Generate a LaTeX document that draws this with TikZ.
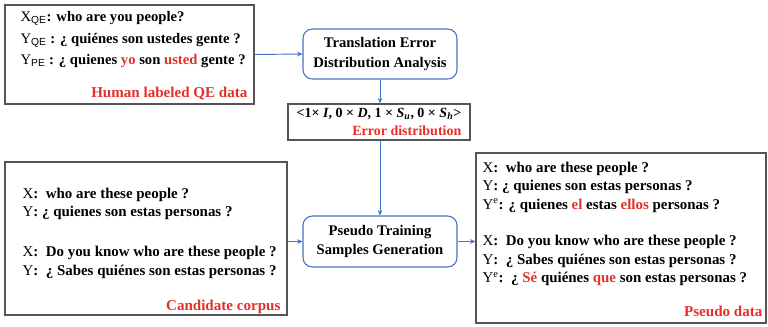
\documentclass[tikz,border=0pt]{standalone}
\usepackage{fontspec}
\setmainfont{Liberation Serif}
\newfontfamily\subsf{Liberation Sans}
\usetikzlibrary{arrows.meta,positioning}

\definecolor{boxgray}{RGB}{85,85,85}
\definecolor{flowblue}{RGB}{68,114,196}
\definecolor{errred}{RGB}{228,48,42}

\newcommand{\hl}[1]{\textcolor{errred}{#1}}

\begin{document}
\begin{tikzpicture}[
        x=0.75pt, y=-0.75pt,
        every node/.style={font=\fontsize{11.2}{13.8}\selectfont},
        databox/.style={draw=boxgray, line width=1pt, inner sep=0pt},
        procbox/.style={draw=flowblue, line width=0.8pt, rounded corners=7pt, align=center,
            minimum width=115.5pt, minimum height=37.5pt, font=\fontsize{11}{14.5}\selectfont\bfseries},
        lines/.style={anchor=north west, align=left, inner sep=0pt},
        tag/.style={anchor=base east, inner sep=0pt, text=errred, font=\fontsize{11.3}{13.8}\selectfont\bfseries},
        flow/.style={draw=flowblue, line width=0.7pt, -{Stealth[length=4pt,width=3.5pt]}}
    ]
        \useasboundingbox (0,0) rectangle (768,326);

        % Labelled QE data
        \node[databox, minimum width=186.75pt, minimum height=74.25pt] (qe) at (129.5,54.5) {};
        \node[lines, font=\fontsize{11}{16.3}\selectfont] (qetext) at ([shift={(16,6.5)}]qe.north west)
            {X\textsubscript{\subsf QE}\textbf{: who are you people?}\\
             Y\textsubscript{\subsf QE} \textbf{: ¿ quiénes son ustedes gente ?}\\
             Y\textsubscript{\subsf PE} \textbf{: ¿ quienes \hl{yo} son \hl{usted} gente ?}};
        \node[tag] (qetag) at ([shift={(-7,-7.5)}]qe.south east) {Human labeled QE data};

        % Processing steps
        \node[procbox] (analysis) at (380,54) {Translation Error\\Distribution Analysis};
        \node[databox, minimum width=136.5pt, minimum height=27pt, align=right, inner sep=0pt,
            font=\fontsize{10.5}{13.5}\selectfont] (dist) at (379,122)
            {\textbf{<1× \textit{I}, 0 × \textit{D}, 1 × \textit{S}\textsubscript{\textit{u}}, 0 × \textit{S}\textsubscript{\textit{h}}>}\\
             \textbf{\hl{Error distribution}}};
        \node[procbox, minimum height=38.25pt] (gen) at (380,241.5) {Pseudo Training\\Samples Generation};

        % Candidate corpus
        \node[databox, minimum width=211.5pt, minimum height=114.75pt] (corpus) at (146,238.5) {};
        \node[lines] (corpustext) at ([shift={(18,26.5)}]corpus.north west)
            {X\textbf{:\ \ who are these people ?}\\
             Y\textbf{: ¿ quienes son estas personas ?}\\[16pt]
             X\textbf{:\ \ Do you know who are these people ?}\\
             Y\textbf{:\ \ ¿ Sabes quiénes son estas personas ?}};
        \node[tag] (corpustag) at ([shift={(-7,-5)}]corpus.south east) {Candidate corpus};

        % Pseudo data
        \node[databox, minimum width=217.5pt, minimum height=127.5pt] (pseudo) at (621,238) {};
        \node[lines] (pseudotext) at ([shift={(7,9.5)}]pseudo.north west)
            {X\textbf{:\ \ who are these people ?}\\
             Y\textbf{: ¿ quienes son estas personas ?}\\
             Y\textsuperscript{e}\textbf{: ¿ quienes \hl{el} estas \hl{ellos} personas ?}\\[13.5pt]
             X\textbf{:\ \ Do you know who are these people ?}\\
             Y\textbf{:\ \ ¿ Sabes quiénes son estas personas ?}\\
             Y\textsuperscript{e}\textbf{:\ \ ¿ \hl{Sé} quiénes \hl{que} son estas personas ?}};
        \node[tag] (pseudotag) at ([shift={(-4,-7)}]pseudo.south east) {Pseudo data};

        % Connectors
        \draw[flow] (qe.east) -- (analysis.west);
        \draw[flow] (analysis.south) -- (analysis.south |- dist.north);
        \draw[flow] (analysis.south |- dist.south) -- (gen.north);
        \draw[flow] (corpus.east |- gen.west) -- (gen.west);
        \draw[flow] (gen.east) -- (gen.east -| pseudo.west);
    \end{tikzpicture}
\end{document}
